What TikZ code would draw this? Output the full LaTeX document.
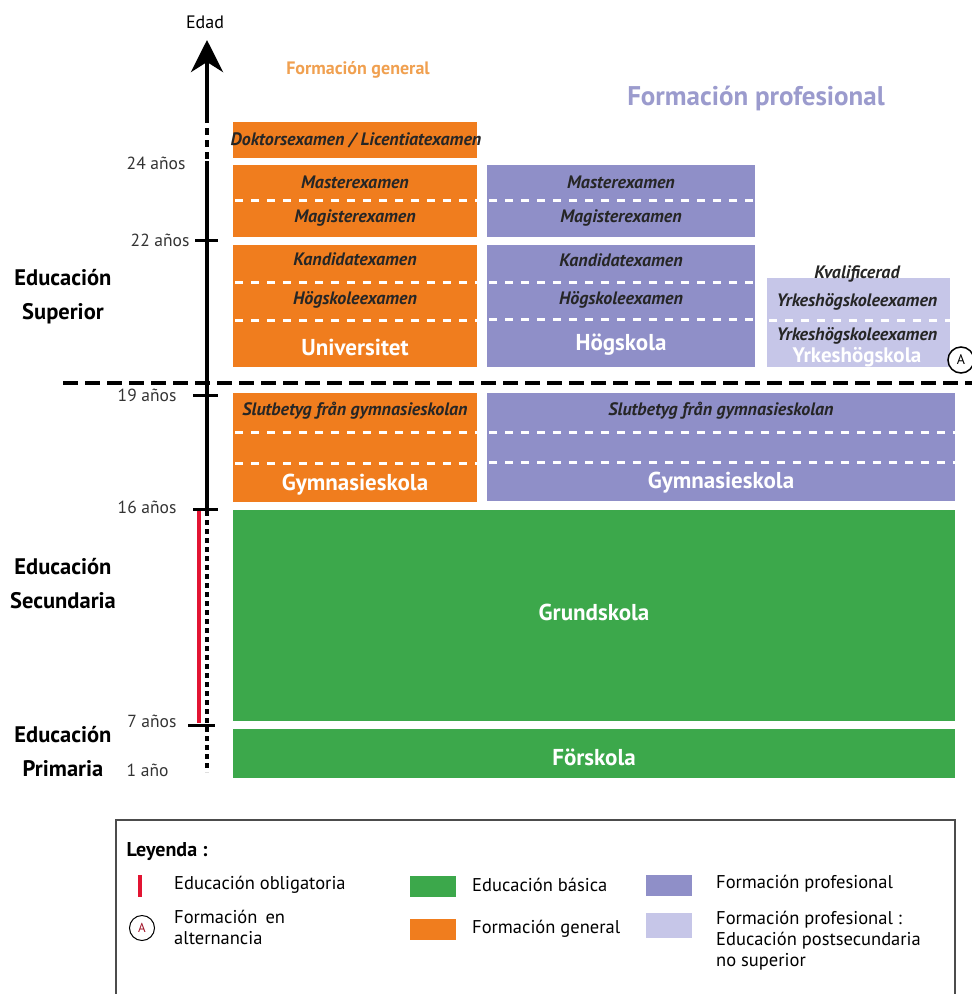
\documentclass[tikz,border=0pt]{standalone}
\usepackage{fontspec}
\setmainfont{PT Sans}
\usetikzlibrary{arrows.meta}

\definecolor{genorange}{RGB}{240,125,30}
\definecolor{profpurple}{RGB}{143,143,200}
\definecolor{postpurple}{RGB}{198,198,232}
\definecolor{basicgreen}{RGB}{60,168,75}
\definecolor{oblred}{RGB}{226,20,50}
\definecolor{titleorange}{RGB}{240,160,80}
\definecolor{titlepurple}{RGB}{155,155,205}

\begin{document}
\begin{tikzpicture}[x=1pt,y=-1pt,
  box/.style={inner sep=0pt, outer sep=0pt, anchor=north west},
  genbox/.style={box, fill=genorange},
  profbox/.style={box, fill=profpurple},
  postbox/.style={box, fill=postpurple},
  basebox/.style={box, fill=basicgreen},
  exam/.style={font=\fontsize{18}{20}\selectfont\bfseries\itshape, text=black!85},
  school/.style={font=\fontsize{23}{26}\selectfont\bfseries, text=white},
  level/.style={font=\fontsize{22.5}{34}\selectfont\bfseries, align=center},
  age/.style={font=\fontsize{17.5}{19}\selectfont, text=black!80, anchor=east},
  sep/.style={white, line width=3pt, dash pattern=on 8pt off 8pt},
  tick/.style={line width=3pt},
  legtext/.style={font=\fontsize{18.5}{21}\selectfont, anchor=west, align=left, inner sep=0pt},
  swatch/.style={minimum width=46pt, minimum height=21pt, inner sep=0pt}]
  \useasboundingbox (0,0) rectangle (972,994);

  % age axis
  \node[font=\fontsize{18}{20}\selectfont] (edad) at (205,22) {Edad};
  \coordinate (tip) at (207,40);
  \draw[line width=4.5pt, -{Stealth[length=32pt,width=32pt,inset=10pt]}] (207,116) -- (tip);
  \draw[line width=4.5pt, dash pattern=on 7pt off 5pt] (207,116) -- (207,161);
  \draw[line width=4.5pt] (207,161) -- (207,509);
  \draw[oblred, line width=4pt] (199,511) -- (199,723);
  \draw[line width=4pt, dash pattern=on 5pt off 4pt] (207,511) -- (207,772);

  % ticks and ages
  \draw[tick] (195,240) -- (218,240);
  \draw[tick] (193,395) -- (218,395);
  \draw[tick] (193,509) -- (218,509);
  \draw[tick] (188,725) -- (215,725);
  \node[age] (a24) at (189,163) {24 años};
  \node[age] (a22) at (193,240) {22 años};
  \node[age] (a19) at (180,395) {19 años};
  \node[age] (a16) at (180,507) {16 años};
  \node[age] (a7) at (180,721) {7 años};
  \node[age] (a1) at (172,770) {1 año};

  % levels
  \node[level] (sup) at (63,297) {Educación\\Superior};
  \node[level] (sec) at (63,584) {Educación\\Secundaria};
  \node[level] (pri) at (63,751) {Educación\\Primaria};

  % titles
  \node[font=\fontsize{18}{20}\selectfont\bfseries, text=titleorange] (tgen) at (358,70) {Formación general};
  \node[font=\fontsize{27}{32}\selectfont\bfseries, text=titlepurple] (tprof) at (756,98) {Formación profesional};

  % Formacion general
  \node[genbox, minimum width=244pt, minimum height=36pt] (gdok) at (233,122) {};
  \node[genbox, minimum width=244pt, minimum height=72pt] (gmast) at (233,165) {};
  \node[genbox, minimum width=244pt, minimum height=122pt] (guni) at (233,245) {};
  \node[genbox, minimum width=244pt, minimum height=109pt] (ggym) at (233,393) {};

  % Formacion profesional
  \node[profbox, minimum width=268pt, minimum height=72pt] (pmast) at (487,165) {};
  \node[profbox, minimum width=268pt, minimum height=122pt] (phog) at (487,245) {};
  \node[profbox, minimum width=468pt, minimum height=108pt] (pgym) at (487,393) {};
  \node[postbox, minimum width=183pt, minimum height=89pt] (yh) at (767,278) {};

  % Educacion basica
  \node[basebox, minimum width=722pt, minimum height=211pt] (grund) at (233,510) {};
  \node[basebox, minimum width=722pt, minimum height=49pt] (fors) at (233,729) {};

  % dividers
  \draw[sep] (235,200) -- (477,200);
  \draw[sep] (235,282) -- (477,282);
  \draw[sep] (235,320) -- (477,320);
  \draw[sep] (235,432) -- (477,432);
  \draw[sep] (235,463) -- (477,463);
  \draw[sep] (489,200) -- (755,200);
  \draw[sep] (489,282) -- (755,282);
  \draw[sep] (489,319) -- (755,319);
  \draw[sep] (489,432) -- (955,432);
  \draw[sep] (489,462) -- (955,462);
  \draw[sep] (769,320) -- (950,320);

  % labels
  \node[exam] (tdok) at (356,140) {Doktorsexamen / Licentiatexamen};
  \node[exam] (tgmast) at (355,182) {Masterexamen};
  \node[exam] (tgmag) at (355,218) {Magisterexamen};
  \node[exam] (tgkand) at (355,259) {Kandidatexamen};
  \node[exam] (tghog) at (355,300) {Högskoleexamen};
  \node[school] (tuni) at (355,347) {Universitet};
  \node[exam] (tgslut) at (355,411) {Slutbetyg från gymnasieskolan};
  \node[school] (tggym) at (355,485) {Gymnasieskola};
  \node[exam] (tpmast) at (621,182) {Masterexamen};
  \node[exam] (tpmag) at (621,218) {Magisterexamen};
  \node[exam] (tpkand) at (621,260) {Kandidatexamen};
  \node[exam] (tphog) at (621,300) {Högskoleexamen};
  \node[school] (thog) at (621,345) {Högskola};
  \node[exam] (tpslut) at (721,411) {Slutbetyg från gymnasieskolan};
  \node[school] (tpgym) at (721,483) {Gymnasieskola};
  \node[exam] (tkval) at (857,274) {Kvalificerad};
  \node[exam] (tyhe1) at (857,302) {Yrkeshögskoleexamen};
  \node[exam] (tyhe2) at (857,336) {Yrkeshögskoleexamen};
  \node[school, font=\fontsize{21}{24}\selectfont\bfseries] (tyh) at (857,357) {Yrkeshögskola};
  \node[school] (tgrund) at (594,612) {Grundskola};
  \node[school] (tfors) at (594,757) {Förskola};

  % secondary / tertiary limit
  \draw[line width=3.5pt, dash pattern=on 15pt off 7pt] (63,383) -- (972,383);
  \node[circle, draw, line width=1.5pt, fill=white, minimum size=26pt, inner sep=0pt,
    font=\fontsize{14}{16}\selectfont] (alt) at (961,360) {A};

  % legend
  \draw[black!70, line width=1.5pt] (116,1000) -- (116,820) -- (955,820) -- (955,1000);
  \node[font=\fontsize{20}{22}\selectfont\bfseries, anchor=west] (ley) at (123,852) {Leyenda :};
  \draw[oblred, line width=4pt] (140,875) -- (140,897);
  \node[legtext] (lobl) at (174,885) {Educación obligatoria};
  \node[circle, draw, line width=1pt, minimum size=25pt, inner sep=0pt, text=oblred!70!black,
    font=\fontsize{13}{15}\selectfont] (lalt) at (142,928) {A};
  \node[legtext] (lalttext) at (174,927) {Formación\, en\\alternancia};
  \node[swatch, fill=basicgreen] (sbas) at (433,886) {};
  \node[legtext] (lbas) at (472,885) {Educación básica};
  \node[swatch, fill=genorange] (sgen) at (433,929) {};
  \node[legtext] (lgen) at (472,929) {Formación general};
  \node[swatch, fill=profpurple] (sprof) at (669,885) {};
  \node[legtext] (lprof) at (716,884) {Formación profesional};
  \node[swatch, minimum height=25pt, fill=postpurple] (spost) at (669,925) {};
  \node[legtext] (lpost) at (716,941) {Formación profesional :\\Educación postsecundaria\\no superior};
\end{tikzpicture}
\end{document}
